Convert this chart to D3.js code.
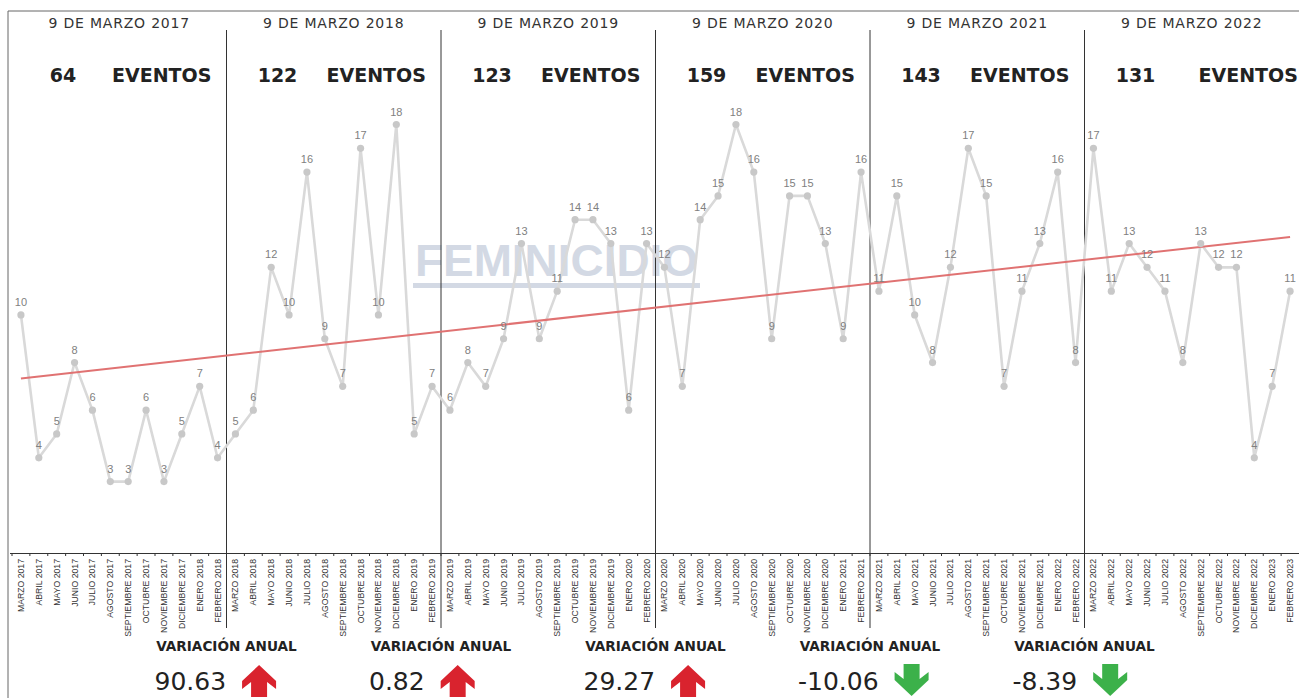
<!DOCTYPE html>
<html><head><meta charset="utf-8">
<script src="https://cdn.jsdelivr.net/npm/d3@7"></script>
<style>body{margin:0;background:#fff;} svg{display:block;}</style>
</head><body><svg id="c" width="1299" height="698"></svg>
<script>
const months = [
 "MARZO 2017","ABRIL 2017","MAYO 2017","JUNIO 2017","JULIO 2017","AGOSTO 2017","SEPTIEMBRE 2017","OCTUBRE 2017","NOVIEMBRE 2017","DICIEMBRE 2017","ENERO 2018","FEBRERO 2018",
 "MARZO 2018","ABRIL 2018","MAYO 2018","JUNIO 2018","JULIO 2018","AGOSTO 2018","SEPTIEMBRE 2018","OCTUBRE 2018","NOVIEMBRE 2018","DICIEMBRE 2018","ENERO 2019","FEBRERO 2019",
 "MARZO 2019","ABRIL 2019","MAYO 2019","JUNIO 2019","JULIO 2019","AGOSTO 2019","SEPTIEMBRE 2019","OCTUBRE 2019","NOVIEMBRE 2019","DICIEMBRE 2019","ENERO 2020","FEBRERO 2020",
 "MARZO 2020","ABRIL 2020","MAYO 2020","JUNIO 2020","JULIO 2020","AGOSTO 2020","SEPTIEMBRE 2020","OCTUBRE 2020","NOVIEMBRE 2020","DICIEMBRE 2020","ENERO 2021","FEBRERO 2021",
 "MARZO 2021","ABRIL 2021","MAYO 2021","JUNIO 2021","JULIO 2021","AGOSTO 2021","SEPTIEMBRE 2021","OCTUBRE 2021","NOVIEMBRE 2021","DICIEMBRE 2021","ENERO 2022","FEBRERO 2022",
 "MARZO 2022","ABRIL 2022","MAYO 2022","JUNIO 2022","JULIO 2022","AGOSTO 2022","SEPTIEMBRE 2022","OCTUBRE 2022","NOVIEMBRE 2022","DICIEMBRE 2022","ENERO 2023","FEBRERO 2023"
];
const values = [
 10,4,5,8,6,3,3,6,3,5,7,4,
 5,6,12,10,16,9,7,17,10,18,5,7,
 6,8,7,9,13,9,11,14,14,13,6,13,
 12,7,14,15,18,16,9,15,15,13,9,16,
 11,15,10,8,12,17,15,7,11,13,16,8,
 17,11,13,12,11,8,13,12,12,4,7,11
];
const periods = ["9 DE MARZO 2017","9 DE MARZO 2018","9 DE MARZO 2019","9 DE MARZO 2020","9 DE MARZO 2021","9 DE MARZO 2022"];
const totalsLabel = "EVENTOS";
const variationLabel = "VARIACIÓN ANUAL";
const watermark = "FEMINICIDIO";

const W = 1299, H = 698;
const svg = d3.select("#c");
const x = d3.scaleBand().domain(months).range([12, 1299]).padding(0);
const y = d3.scaleLinear().domain([0, 18]).range([553, 124.5]);
const step = x.step();
const cx = d => x(d) + x.bandwidth() / 2;
const data = months.map((m, i) => ({m, v: values[i], i}));

// totals per period
const totals = periods.map((p, k) => d3.sum(values.slice(k * 12, k * 12 + 12)));
const variations = totals.slice(1).map((t, k) => (t - totals[k]) / totals[k] * 100);

// frame
svg.append("line").attr("x1", 8).attr("x2", W).attr("y1", 11).attr("y2", 11).attr("stroke", "#666").attr("stroke-width", 1);
svg.append("line").attr("x1", 8).attr("x2", 8).attr("y1", 11).attr("y2", H).attr("stroke", "#666").attr("stroke-width", 1);

// watermark
svg.append("text").attr("x", 415).attr("y", 276).text(watermark)
  .attr("font-family", "Liberation Sans, Arial, sans-serif").attr("font-weight", "bold")
  .attr("font-size", 44).attr("fill", "#d3d9e4")
  .attr("textLength", 283).attr("lengthAdjust", "spacingAndGlyphs");
svg.append("rect").attr("x", 413).attr("y", 283).attr("width", 287).attr("height", 5).attr("fill", "#d3d9e4");

// dividers
const starts = periods.map((p, k) => x(months[k * 12]));
svg.selectAll("line.div").data(starts.slice(1)).join("line").attr("class", "div")
  .attr("x1", d => d).attr("x2", d => d).attr("y1", 30).attr("y2", 628)
  .attr("stroke", "#333").attr("stroke-width", 1);

// headers
const hdrFont = "DejaVu Sans, sans-serif";
svg.selectAll("text.hdr").data(periods).join("text").attr("class", "hdr")
  .attr("x", (d, k) => starts[k] + 6 * step).attr("y", 28).attr("text-anchor", "middle")
  .attr("font-family", hdrFont).attr("font-size", 14).attr("letter-spacing", "0.8px")
  .attr("fill", "#333").text(d => d);
svg.selectAll("text.tot").data(totals).join("text").attr("class", "tot")
  .attr("x", (d, k) => starts[k] + 51).attr("y", 82).attr("text-anchor", "middle")
  .attr("font-family", hdrFont).attr("font-weight", "bold").attr("font-size", 19)
  .attr("fill", "#222").text(d => d);
svg.selectAll("text.ev").data(totals).join("text").attr("class", "ev")
  .attr("x", (d, k) => starts[k] + 100 + (k === 5 ? 14 : 0)).attr("y", 82)
  .attr("font-family", hdrFont).attr("font-weight", "bold").attr("font-size", 19)
  .attr("fill", "#222").text(totalsLabel);

// x axis
const axis = d3.axisBottom(x).tickSize(3).tickSizeOuter(0).tickPadding(0);
const gx = svg.append("g").attr("transform", "translate(0,553)").call(axis);
gx.select(".domain").attr("stroke", "#333").attr("d", "M10,0.5H1299");
gx.selectAll(".tick line").attr("x1", -step / 2).attr("x2", -step / 2).attr("stroke", "#333");
gx.selectAll(".tick text")
  .attr("transform", "rotate(-90)").attr("text-anchor", "end")
  .attr("x", -6).attr("y", 0).attr("dy", "0.35em")
  .attr("font-family", "Liberation Sans, Arial, sans-serif").attr("font-size", 8.7).attr("fill", "#333");

// series line
const line = d3.line().x(d => cx(d.m)).y(d => y(d.v));
svg.append("path").datum(data).attr("d", line).attr("fill", "none")
  .attr("stroke", "#d9d9d9").attr("stroke-width", 2.6).attr("stroke-linejoin", "round");

// trend (least squares)
const n = values.length;
const mx = d3.mean(data, d => d.i), my = d3.mean(values);
const slope = d3.sum(data, d => (d.i - mx) * (d.v - my)) / d3.sum(data, d => (d.i - mx) ** 2);
const icpt = my - slope * mx;
const trend = [data[0], data[n - 1]].map(d => ({m: d.m, v: icpt + slope * d.i}));
svg.append("path").datum(trend).attr("d", line).attr("fill", "none")
  .attr("stroke", "#e07272").attr("stroke-width", 2);

// points
svg.selectAll("circle.pt").data(data).join("circle").attr("class", "pt")
  .attr("cx", d => cx(d.m)).attr("cy", d => y(d.v)).attr("r", 3.6).attr("fill", "#c8c8c8");
svg.selectAll("text.lbl").data(data).join("text").attr("class", "lbl")
  .attr("x", d => cx(d.m)).attr("y", d => y(d.v) - 9).attr("text-anchor", "middle")
  .attr("font-family", "Liberation Sans, Arial, sans-serif").attr("font-size", 11)
  .attr("fill", "#808080").text(d => d.v);

// variations
const varG = svg.selectAll("g.var").data(variations).join("g").attr("class", "var")
  .attr("transform", (d, k) => `translate(${starts[k + 1]},0)`);
varG.append("text").attr("x", 0).attr("y", 651).attr("text-anchor", "middle")
  .attr("font-family", hdrFont).attr("font-weight", "bold").attr("font-size", 13.6)
  .attr("fill", "#222").text(variationLabel);
varG.append("text").attr("class", "vv").attr("x", -72).attr("y", 690)
  .attr("font-family", hdrFont).attr("font-size", 25).attr("fill", "#222")
  .text(d => d.toFixed(2));
varG.each(function(d) {
  const g = d3.select(this);
  const tw = g.select("text.vv").node().getComputedTextLength();
  const ax = -72 + tw + 16;
  const up = "M17,0 L34,16 L34,24 L25,17 L25,32 L9,32 L9,17 L0,24 L0,16 Z";
  const down = "M17,32 L34,16 L34,8 L25,15 L25,0 L9,0 L9,15 L0,8 L0,16 Z";
  g.append("path").attr("transform", `translate(${ax},${d >= 0 ? 665 : 664})`)
    .attr("d", d >= 0 ? up : down).attr("fill", d >= 0 ? "#d9232e" : "#3cb14a");
});
</script></body></html>
